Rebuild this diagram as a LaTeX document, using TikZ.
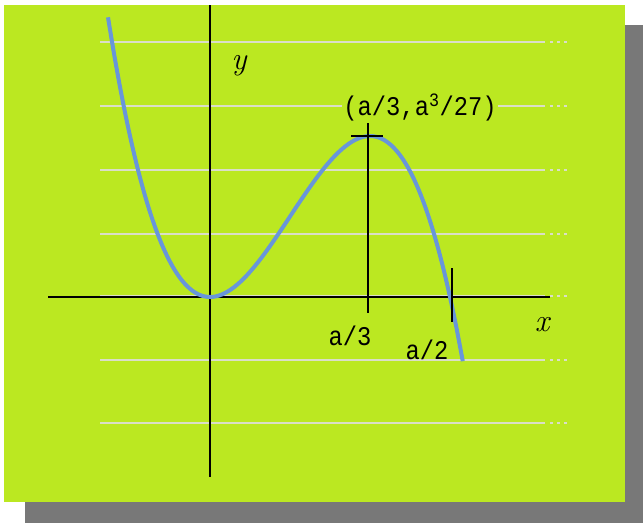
\documentclass[tikz,border=0pt]{standalone}
\usepackage{fontspec}
\usepackage{tikz}
\usetikzlibrary{positioning}
\newfontfamily\plotfont[FakeStretch=0.88]{Liberation Mono}
\definecolor{bggreen}{RGB}{187,232,33}
\definecolor{shadowgrey}{RGB}{120,120,120}
\definecolor{gridgrey}{RGB}{218,222,200}
\definecolor{curveblue}{RGB}{104,150,218}

\begin{document}
\begin{tikzpicture}[
  x=1pt,y=-1pt,
  font=\plotfont\fontsize{27}{27}\selectfont,
  axis/.style={line width=1.6pt,black},
  gridline/.style={line width=2pt,gridgrey},
  griddots/.style={line width=2pt,gridgrey,dash pattern=on 3pt off 4pt},
  curve/.style={line width=4pt,curveblue,line join=round},
  tick/.style={line width=1.4pt,black},
  lbl/.style={inner sep=1pt},
  varlbl/.style={inner sep=1pt,font=\normalfont\itshape\fontsize{32}{32}\selectfont}
]
\useasboundingbox (0,0) rectangle (643,523);
% ---- shadow and card ----
\fill[shadowgrey] (25,25) rectangle (643,523);
\fill[bggreen] (4,5) rectangle (625,502);

% ---- light rulings ----
\foreach \yy in {42,106,170,234,296,360,423} {
  \draw[gridline] (100,\yy) -- (545,\yy);
  \draw[griddots] (550,\yy) -- (570,\yy);
}

% ---- axes ----
\coordinate (o) at (210,297);
\coordinate (xl) at (48,297);
\coordinate (xr) at (550,297);
\coordinate (yt) at (210,5);
\coordinate (yb) at (210,477);
\draw[axis] (xl) -- (xr);
\draw[axis] (yt) -- (yb);
\node[varlbl] (ylab) at (239,66) {y};
\node[varlbl] (xlab) at (542,325) {x};

% ---- cubic y = x^2 (a - 2x) ----
\draw[curve] plot[domain=-0.6375:1.58,samples=60,smooth]
  ({210+160*\x},{297-161*\x*\x*(3-2*\x)});

% ---- maximum at a/3 ----
\coordinate (peak) at (368,136);
\coordinate (peaktop) at (368,123);
\coordinate (peakfoot) at (368,313);
\coordinate (capl) at (351,136);
\coordinate (capr) at (383,136);
\draw[tick] (peaktop) -- (peakfoot);
\draw[tick] (capl) -- (capr);
\node[lbl,fill=bggreen] (peaklab) at (420,107) {(a/3,a\textsuperscript{3}/27)};
\node[lbl] (third) at (350,336) {a/3};

% ---- root at a/2 ----
\coordinate (roottop) at (452,268);
\coordinate (rootfoot) at (452,322);
\draw[tick] (roottop) -- (rootfoot);
\node[lbl] (half) at (427,350) {a/2};
\end{tikzpicture}
\end{document}
